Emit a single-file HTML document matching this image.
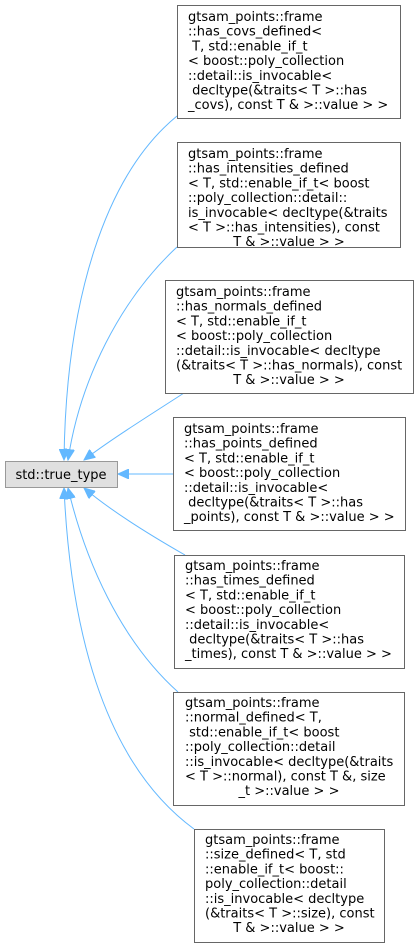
<!DOCTYPE html>
<html><head><meta charset="utf-8"><style>
html,body{margin:0;padding:0;background:#fff;}
svg{display:block;}
text{font-family:"DejaVu Sans","Liberation Sans",sans-serif;font-size:13px;fill:#000;white-space:pre;}
</style></head><body>
<svg width="419" height="948" viewBox="0 0 419 948" xmlns="http://www.w3.org/2000/svg" xml:space="preserve">
<defs>
<marker id="a" markerWidth="12" markerHeight="10" refX="11" refY="5" orient="auto" markerUnits="userSpaceOnUse">
<path d="M0,0 L11,5 L0,10 Z" fill="#63b8ff" stroke="#63b8ff"/>
</marker>
</defs>
<g fill="none" stroke="#63b8ff" stroke-width="1">
<path d="M177,116 C105,175 66,300 64,460" marker-end="url(#a)"/>
<path d="M177,247 C120,300 80,380 68,460" marker-end="url(#a)"/>
<path d="M184,393 C150,415 110,440 84,460" marker-end="url(#a)"/>
<path d="M173,474 L118,474" marker-end="url(#a)"/>
<path d="M185,555 C150,535 110,510 84,488" marker-end="url(#a)"/>
<path d="M178,692 C120,640 85,560 68,488" marker-end="url(#a)"/>
<path d="M194,829 C100,760 70,620 64,488" marker-end="url(#a)"/>
</g>
<rect x="5.5" y="461.5" width="112" height="26" fill="#e0e0e0" stroke="#999"/>
<text x="61" y="479" text-anchor="middle">std::true_type</text>
<g fill="#fff" stroke="#666">
<rect x="177.5" y="5.5" width="223" height="113"/>
<rect x="177.5" y="142.5" width="223" height="105"/>
<rect x="165.5" y="280.5" width="248" height="113"/>
<rect x="173.5" y="417.5" width="232" height="113"/>
<rect x="174.5" y="555.5" width="230" height="113"/>
<rect x="173.5" y="692.5" width="231" height="113"/>
<rect x="194.5" y="829.5" width="190" height="113"/>
</g>
<g>
<text x="188" y="21">gtsam_points::frame</text>
<text x="188" y="35.7">::has_covs_defined&lt;</text>
<text x="188" y="50.4"> T, std::enable_if_t</text>
<text x="188" y="65.1">&lt; boost::poly_collection</text>
<text x="188" y="79.8">::detail::is_invocable&lt;</text>
<text x="188" y="94.5"> decltype(&amp;traits&lt; T &gt;::has</text>
<text x="188" y="109.2">_covs), const T &amp; &gt;::value &gt; &gt;</text>

<text x="188" y="158">gtsam_points::frame</text>
<text x="188" y="172.7">::has_intensities_defined</text>
<text x="188" y="187.4">&lt; T, std::enable_if_t&lt; boost</text>
<text x="188" y="202.1">::poly_collection::detail::</text>
<text x="188" y="216.8">is_invocable&lt; decltype(&amp;traits</text>
<text x="188" y="231.5">&lt; T &gt;::has_intensities), const</text>
<text x="289" y="246.2" text-anchor="middle">T &amp; &gt;::value &gt; &gt;</text>

<text x="176" y="296">gtsam_points::frame</text>
<text x="176" y="310.7">::has_normals_defined</text>
<text x="176" y="325.4">&lt; T, std::enable_if_t</text>
<text x="176" y="340.1">&lt; boost::poly_collection</text>
<text x="176" y="354.8">::detail::is_invocable&lt; decltype</text>
<text x="176" y="369.5">(&amp;traits&lt; T &gt;::has_normals), const</text>
<text x="289" y="384.2" text-anchor="middle">T &amp; &gt;::value &gt; &gt;</text>

<text x="184" y="433">gtsam_points::frame</text>
<text x="184" y="447.7">::has_points_defined</text>
<text x="184" y="462.4">&lt; T, std::enable_if_t</text>
<text x="184" y="477.1">&lt; boost::poly_collection</text>
<text x="184" y="491.8">::detail::is_invocable&lt;</text>
<text x="184" y="506.5"> decltype(&amp;traits&lt; T &gt;::has</text>
<text x="184" y="521.2">_points), const T &amp; &gt;::value &gt; &gt;</text>

<text x="185" y="570">gtsam_points::frame</text>
<text x="185" y="584.7">::has_times_defined</text>
<text x="185" y="599.4">&lt; T, std::enable_if_t</text>
<text x="185" y="614.1">&lt; boost::poly_collection</text>
<text x="185" y="628.8">::detail::is_invocable&lt;</text>
<text x="185" y="643.5"> decltype(&amp;traits&lt; T &gt;::has</text>
<text x="185" y="658.2">_times), const T &amp; &gt;::value &gt; &gt;</text>

<text x="185" y="707">gtsam_points::frame</text>
<text x="185" y="721.7">::normal_defined&lt; T,</text>
<text x="185" y="736.4"> std::enable_if_t&lt; boost</text>
<text x="185" y="751.1">::poly_collection::detail</text>
<text x="185" y="765.8">::is_invocable&lt; decltype(&amp;traits</text>
<text x="185" y="780.5">&lt; T &gt;::normal), const T &amp;, size</text>
<text x="289" y="795.2" text-anchor="middle">_t &gt;::value &gt; &gt;</text>

<text x="205" y="844">gtsam_points::frame</text>
<text x="205" y="858.7">::size_defined&lt; T, std</text>
<text x="205" y="873.4">::enable_if_t&lt; boost::</text>
<text x="205" y="888.1">poly_collection::detail</text>
<text x="205" y="902.8">::is_invocable&lt; decltype</text>
<text x="205" y="917.5">(&amp;traits&lt; T &gt;::size), const</text>
<text x="289" y="932.2" text-anchor="middle">T &amp; &gt;::value &gt; &gt;</text>
</g>
</svg>
</body></html>
